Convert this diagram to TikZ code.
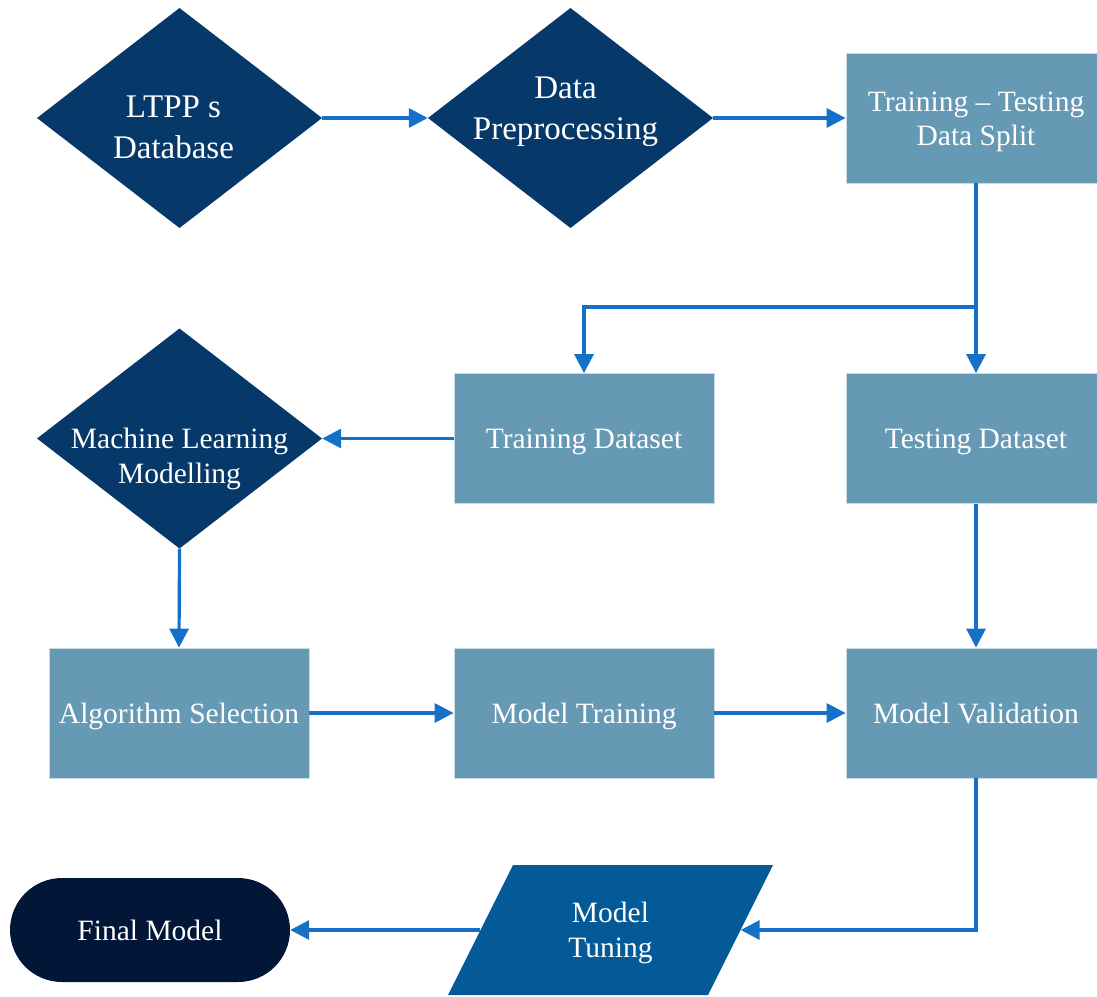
\documentclass[tikz,border=0pt]{standalone}
\usepackage{fontspec}
\setmainfont{Liberation Serif}
\usetikzlibrary{arrows.meta}

\definecolor{decisionblue}{HTML}{06386A}
\definecolor{boxblue}{HTML}{6699B4}
\definecolor{boxedge}{HTML}{C8DCE8}
\definecolor{tuneblue}{HTML}{035A96}
\definecolor{finalnavy}{HTML}{021737}
\definecolor{arrowblue}{HTML}{1570C8}

% multi-line label moved by #1 (negative = down) while the node keeps its size
\newcommand{\shiftlines}[2]{\raisebox{#1}[\height][\depth]{\begin{tabular}{@{}c@{}}#2\end{tabular}}}

\begin{document}
\begin{tikzpicture}[x=1pt,y=-1pt,
  every node/.style={text=white, align=center, inner sep=0pt},
  procbox/.style={rectangle, fill=boxblue, draw=boxedge, line width=0.8pt,
    minimum width=260pt, minimum height=130pt,
    font=\fontsize{29.5}{34}\selectfont},
  oneline/.style={text height=20pt, text depth=0pt},
  decision/.style={rectangle, minimum width=285pt, minimum height=220pt,
    path picture={\fill[decisionblue] (path picture bounding box.north)
      -- (path picture bounding box.east) -- (path picture bounding box.south)
      -- (path picture bounding box.west) -- cycle;}},
  bigtext/.style={font=\fontsize{33}{41}\selectfont},
  midtext/.style={font=\fontsize{29.5}{35}\selectfont},
  tuning/.style={rectangle, minimum width=325pt, minimum height=130pt,
    font=\fontsize{29.5}{35}\selectfont,
    path picture={\fill[tuneblue]
      ([xshift=65pt]path picture bounding box.north west)
      -- (path picture bounding box.north east)
      -- ([xshift=-65pt]path picture bounding box.south east)
      -- (path picture bounding box.south west) -- cycle;}},
  terminal/.style={rectangle, rounded corners=52pt, fill=finalnavy,
    minimum width=280pt, minimum height=104pt, font=\fontsize{29.5}{35}\selectfont},
  conn/.style={draw=arrowblue, line width=3.2pt, -{Triangle[length=19pt,width=19pt]}}
]
\useasboundingbox (0,0) rectangle (1097,996);

% top row
\node[decision, bigtext] (ltpp) at (179.5,118) {\shiftlines{-11.5pt}{LTPP s\\Database}\kern12pt};
\node[decision, bigtext] (prep) at (570.5,118) {\shiftlines{7pt}{Data\\Preprocessing}\kern10pt};
\node[procbox] (split) at (976,118) {\shiftlines{-4pt}{Training -- Testing\\Data Split}};

% second row
\node[decision, midtext] (ml) at (179.5,438.5) {\shiftlines{-20pt}{Machine Learning\\Modelling}};
\node[procbox, oneline] (train) at (584,438.5) {Training Dataset};
\node[procbox, oneline] (test) at (976,438.5) {Testing Dataset};

% third row
\node[procbox, oneline] (algo) at (179,713) {Algorithm Selection};
\node[procbox, oneline] (mtrain) at (584,713) {Model Training};
\node[procbox, oneline] (valid) at (976,713) {Model Validation};

% bottom row
\node[tuning] (tune) at (610.5,930) {\shiftlines{-3pt}{Model\\Tuning}};
\node[terminal, oneline] (final) at (150,930) {Final Model};

% connectors
\coordinate (fork) at (976,307);
\draw[conn] (ltpp.east) -- (prep.west);
\draw[conn] (prep.east) -- (split.west);
\draw[conn] (split.south) -- (fork) -| (train.north);
\draw[conn] (fork) -- (test.north);
\draw[conn] (train.west) -- (ml.east);
\draw[conn] (ml.south) -- (algo.north);
\draw[conn] (algo.east) -- (mtrain.west);
\draw[conn] (mtrain.east) -- (valid.west);
\draw[conn] (test.south) -- (valid.north);
\draw[conn] (valid.south) |- ([xshift=-32.5pt]tune.east);
\draw[conn] ([xshift=32.5pt]tune.west) -- (final.east);
\end{tikzpicture}
\end{document}
